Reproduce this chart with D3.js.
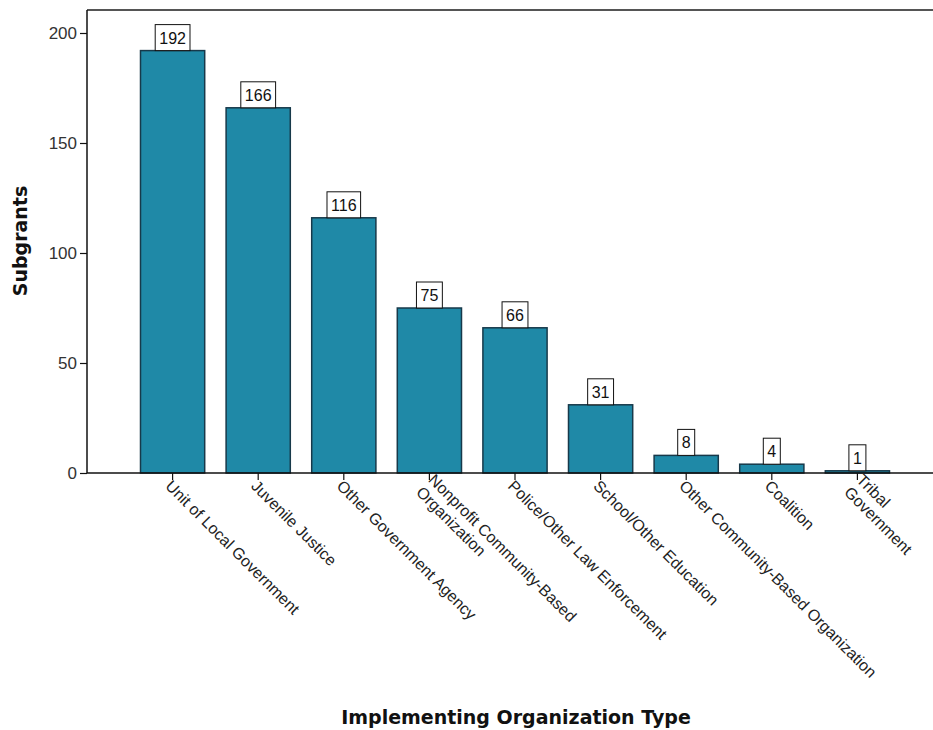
<!DOCTYPE html>
<html>
<head>
<meta charset="utf-8">
<script src="https://cdn.jsdelivr.net/npm/d3@7"></script>
<style>
  html, body { margin: 0; padding: 0; background: #fff; }
  svg { display: block; font-family: "Liberation Sans", Arial, sans-serif; }
</style>
</head>
<body>
<svg id="chart" width="933" height="730"></svg>
<script>
// Subgrants by implementing organization type
const categories = [
  ["Unit of Local Government"],
  ["Juvenile Justice"],
  ["Other Government Agency"],
  ["Nonprofit Community-Based", "Organization"],
  ["Police/Other Law Enforcement"],
  ["School/Other Education"],
  ["Other Community-Based Organization"],
  ["Coalition"],
  ["Tribal", "Government"]
];
const subgrants = [192, 166, 116, 75, 66, 31, 8, 4, 1];
const yTicks = [0, 50, 100, 150, 200];
const yTitle = "Subgrants";
const xTitle = "Implementing Organization Type";

const svg = d3.select("#chart");
const plotLeft = 87, plotTop = 10, plotBottom = 473, plotRight = 943;

const x = d3.scaleBand()
  .domain(d3.range(categories.length))
  .range([plotLeft, plotRight])
  .paddingInner(0.25)
  .paddingOuter(0.625);

const y = d3.scaleLinear().domain([0, 200]).range([plotBottom, 33]);

// frame: top border
svg.append("line")
  .attr("x1", plotLeft).attr("x2", 933)
  .attr("y1", plotTop).attr("y2", plotTop)
  .attr("stroke", "#555").attr("stroke-width", 2);

// bars
svg.append("g").selectAll("rect")
  .data(subgrants)
  .join("rect")
  .attr("x", (d, i) => x(i))
  .attr("y", d => y(d))
  .attr("width", x.bandwidth())
  .attr("height", d => y(0) - y(d))
  .attr("fill", "#1f89a7")
  .attr("stroke", "#17394a")
  .attr("stroke-width", 1.5);

// y axis
const yAxis = svg.append("g")
  .attr("transform", `translate(${plotLeft},0)`)
  .call(d3.axisLeft(y).tickValues(yTicks).tickSize(7).tickPadding(3).tickFormat(d3.format("d")));
yAxis.select(".domain").attr("d", `M0,${plotTop}V${plotBottom}`).attr("stroke", "#111").attr("stroke-width", 1.5);
yAxis.selectAll(".tick line").attr("stroke", "#111").attr("stroke-width", 1.2);
yAxis.selectAll(".tick text")
  .attr("font-size", 17).attr("fill", "#333")
  .attr("font-family", "Liberation Sans, Arial, sans-serif");

// x axis
const xAxis = svg.append("g")
  .attr("transform", `translate(0,${plotBottom})`)
  .call(d3.axisBottom(x).tickSize(7).tickFormat(""));
xAxis.select(".domain").attr("d", `M${plotLeft},0H933`).attr("stroke", "#111").attr("stroke-width", 1.5);
xAxis.selectAll(".tick line").attr("stroke", "#111").attr("stroke-width", 1.2);

// rotated category labels; multi-line labels are centred on the tick
const lbl = svg.append("g").selectAll("text")
  .data(categories)
  .join("text")
  .attr("transform", (d, i) => `translate(${x(i) + x.bandwidth() / 2 + 1},${plotBottom + 5}) rotate(45)`)
  .attr("font-size", 16)
  .attr("fill", "#222")
  .attr("text-anchor", "start");
lbl.each(function (lines) {
  const n = lines.length;
  d3.select(this).selectAll("tspan")
    .data(lines)
    .join("tspan")
    .attr("x", 0)
    .attr("dy", (d, j) => j === 0 ? `${0.8 - (n - 1) * 0.55}em` : "1.1em")
    .text(d => d);
});

// value labels in boxes above the bars
const vl = svg.append("g").selectAll("g")
  .data(subgrants)
  .join("g")
  .attr("transform", (d, i) => `translate(${x(i) + x.bandwidth() / 2},${y(d)})`);
vl.append("text")
  .attr("text-anchor", "middle")
  .attr("y", -7)
  .attr("font-size", 16)
  .attr("fill", "#111")
  .text(d => d);
vl.each(function () {
  const g = d3.select(this);
  const bb = g.select("text").node().getBBox();
  const w = bb.width + 8;
  g.insert("rect", "text")
    .attr("x", -w / 2).attr("y", -26)
    .attr("width", w).attr("height", 26)
    .attr("fill", "#fff")
    .attr("stroke", "#111").attr("stroke-width", 1);
});

// axis titles
svg.append("text")
  .attr("transform", `translate(27,241) rotate(-90)`)
  .attr("text-anchor", "middle")
  .attr("font-size", 19).attr("font-weight", "bold").attr("fill", "#111")
  .attr("font-family", "DejaVu Sans, sans-serif")
  .text(yTitle);

svg.append("text")
  .attr("x", 516).attr("y", 724)
  .attr("text-anchor", "middle")
  .attr("font-size", 19).attr("font-weight", "bold").attr("fill", "#111")
  .attr("font-family", "DejaVu Sans, sans-serif")
  .text(xTitle);
</script>
</body>
</html>
